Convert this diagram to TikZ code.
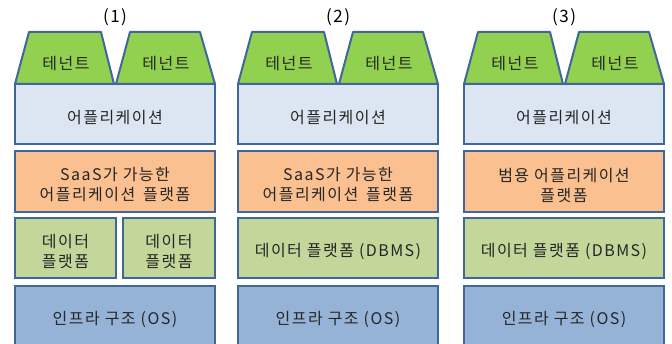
\documentclass[tikz,border=0pt]{standalone}
\usepackage{fontspec}
\setmainfont{Noto Sans CJK KR}[LetterSpace=9]
\definecolor{bordc}{HTML}{41669A}
\definecolor{tenc}{HTML}{92D050}
\definecolor{appc}{HTML}{DCE6F2}
\definecolor{saasc}{HTML}{FAC090}
\definecolor{datac}{HTML}{C4D79B}
\definecolor{infc}{HTML}{95B3D7}
\definecolor{txtc}{HTML}{262626}
\tikzset{
  txt/.style={text=txtc,font=\fontsize{16}{20}\selectfont,align=center,inner sep=0pt,yshift=-3.5pt},
  box/.style={draw=bordc,line width=2pt,inner sep=0pt},
  tenbox/.style={draw=bordc,line width=2pt,fill=tenc,line join=round},
  lbl/.style={font=\fontsize{17}{20}\selectfont,text=black},
}
\begin{document}
\begin{tikzpicture}[x=1pt,y=-1pt]
\useasboundingbox (0,0) rectangle (672,344);
\foreach \L/\n in {15/1,238/2,464/3}{
  \node[lbl] (lab\n) at (\L+100,17) {(\n)};
  \draw[tenbox] (\L,84) -- (\L+14,32) -- (\L+86,32) -- (\L+99,84) -- cycle;
  \draw[tenbox] (\L+101,84) -- (\L+115,32) -- (\L+185,32) -- (\L+200,84) -- cycle;
  \node[txt] (ta\n) at (\L+51,60) {테넌트};
  \node[txt] (tb\n) at (\L+151,60) {테넌트};
  \node[box,fill=appc,minimum width=200pt,minimum height=60pt] (app\n) at (\L+100,114) {};
  \node[txt] (appt\n) at (app\n) {어플리케이션};
  \node[box,fill=infc,minimum width=200pt,minimum height=64pt] (inf\n) at (\L+100,318) {};
  \node[txt] (inft\n) at (\L+100,316) {인프라 구조 (OS)};
  \node[box,fill=saasc,minimum width=200pt,minimum height=61pt] (saas\n) at (\L+100,181.5) {};
}
\node[txt] (saast1) at (saas1) {SaaS가 가능한\\어플리케이션\enspace 플랫폼};
\node[txt] (saast2) at (saas2) {SaaS가 가능한\\어플리케이션\enspace 플랫폼};
\node[txt] (saast3) at (saas3) {범용 어플리케이션\\플랫폼};
\node[box,fill=datac,minimum width=101pt,minimum height=60pt] (da1) at (65.5,248) {};
\node[txt] (dat1) at (da1) {데이터\\플랫폼};
\node[box,fill=datac,minimum width=92pt,minimum height=60pt] (db1) at (169,248) {};
\node[txt] (dbt1) at (db1) {데이터\\플랫폼};
\node[box,fill=datac,minimum width=200pt,minimum height=60pt] (d2) at (338,248) {};
\node[txt] (dt2) at (d2) {데이터 플랫폼 (DBMS)};
\node[box,fill=datac,minimum width=200pt,minimum height=60pt] (d3) at (564,248) {};
\node[txt] (dt3) at (d3) {데이터 플랫폼 (DBMS)};
\end{tikzpicture}
\end{document}
